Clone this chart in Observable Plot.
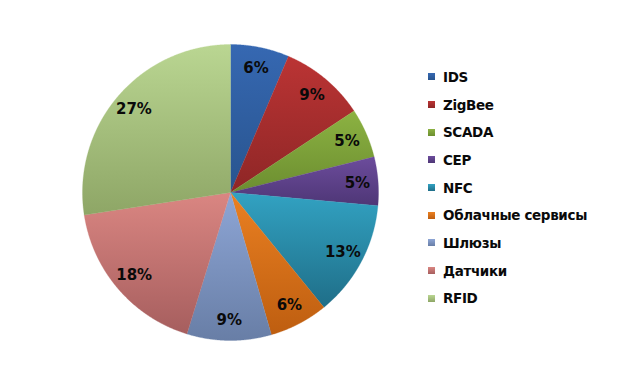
<!DOCTYPE html>
<html><head><meta charset="utf-8">
<script src="https://cdn.jsdelivr.net/npm/d3@7"></script>
<script src="https://cdn.jsdelivr.net/npm/@observablehq/plot@0.6"></script>
<style>
body{margin:0;background:#fff;}
#chart{position:relative;width:640px;height:385px;overflow:hidden;}
#legend{position:absolute;left:428px;top:63px;font-family:"DejaVu Sans",sans-serif;font-weight:bold;font-size:13.5px;color:#0a0a0a;letter-spacing:-0.35px;}
.row{display:flex;align-items:center;height:27.7px;white-space:nowrap;}
.sw{width:7px;height:7px;margin-right:8px;flex:none;}
</style></head><body>
<svg width="0" height="0" style="position:absolute"><defs id="defs"></defs></svg>
<div id="chart"><div id="legend"></div></div>
<script>
const categories = ["IDS","ZigBee","SCADA","CEP","NFC","Облачные сервисы","Шлюзы","Датчики","RFID"];
const values = [6.4, 9.3, 5.4, 5.3, 12.7, 6.4, 9.2, 17.8, 27.4];
const topColors = ["#3668b2","#bb3434","#8cb242","#6c4c9c","#32a2c2","#ea8022","#8ea6d6","#da8682","#bad692"];
const bottomColors = ["#28548e","#8e2626","#6c8e30","#4e3676","#1f6e88","#be5e10","#687ea6","#a65e5e","#8ea666"];

// gradients
const defs = d3.select("#defs");
categories.forEach((c, i) => {
  const g = defs.append("linearGradient").attr("id", "g" + i).attr("x1", 0).attr("y1", 0).attr("x2", 0).attr("y2", 1);
  g.append("stop").attr("offset", "0%").attr("stop-color", topColors[i]);
  g.append("stop").attr("offset", "100%").attr("stop-color", bottomColors[i]);
});
const fills = categories.map((c, i) => `url(#g${i})`);

const total = d3.sum(values);
const arcs = d3.pie().sort(null).value(d => d)(values);
const pts = [];
arcs.forEach((a, i) => {
  const cat = categories[i];
  pts.push({cat, x: 0, y: 0});
  const n = Math.max(2, Math.ceil((a.endAngle - a.startAngle) / 0.005));
  for (let k = 0; k <= n; k++) {
    const t = a.startAngle + (a.endAngle - a.startAngle) * k / n;
    pts.push({cat, x: Math.sin(t), y: Math.cos(t)});
  }
  pts.push({cat, x: 0, y: 0});
});
const labels = arcs.map((a, i) => {
  const m = (a.startAngle + a.endAngle) / 2;
  return {cat: categories[i], x: 0.86 * Math.sin(m), y: 0.86 * Math.cos(m), text: Math.round(values[i] / total * 100) + "%"};
});

const R = 148, cx = 230, cy = 192, W = 640, H = 385;
const plot = Plot.plot({
  width: W, height: H, margin: 0,
  x: {domain: [-cx / R, (W - cx) / R], axis: null},
  y: {domain: [-(H - cy) / R, cy / R], axis: null},
  color: {type: "ordinal", domain: categories, range: fills},
  style: {background: "transparent"},
  marks: [
    Plot.line(pts, {x: "x", y: "y", z: "cat", fill: "cat", stroke: "cat", strokeWidth: 0.3, curve: "linear"}),
    Plot.text(labels, {x: "x", y: "y", text: "text", fontFamily: "DejaVu Sans", fontWeight: "bold", fontSize: 15, fill: "#0a0a0a", letterSpacing: "-0.3px"})
  ]
});
plot.style.position = "absolute"; plot.style.left = "0"; plot.style.top = "0";
document.getElementById("chart").prepend(plot);

const lg = d3.select("#legend");
categories.forEach((c, i) => {
  const r = lg.append("div").attr("class", "row");
  r.append("div").attr("class", "sw").style("background", `linear-gradient(${topColors[i]}, ${bottomColors[i]})`);
  r.append("span").text(c);
});
</script>
</body></html>
